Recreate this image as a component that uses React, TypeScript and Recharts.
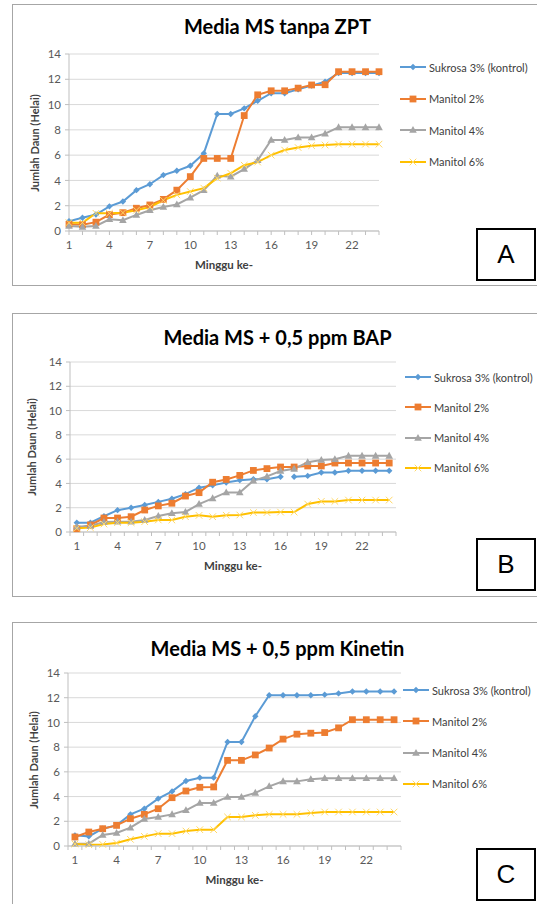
import React from 'react';
import { LineChart, Line, XAxis, YAxis, CartesianGrid } from 'recharts';

const weeks = [1, 2, 3, 4, 5, 6, 7, 8, 9, 10, 11, 12, 13, 14, 15, 16, 17, 18, 19, 20, 21, 22, 23, 24];
const xLabelWeeks = [1, 4, 7, 10, 13, 16, 19, 22];
const yTicks = [0, 2, 4, 6, 8, 10, 12, 14];
const seriesNames = ['Sukrosa 3% (kontrol)', 'Manitol 2%', 'Manitol 4%', 'Manitol 6%'];

// A: Media MS tanpa ZPT
const sukrosaA = [0.77, 1.05, 1.3, 1.95, 2.33, 3.23, 3.7, 4.42, 4.76, 5.16, 6.14, 9.26, 9.26, 9.7, 10.3, 10.9, 10.9, 11.2, 11.5, 11.8, 12.5, 12.5, 12.5, 12.5];
const manitol2A = [0.53, 0.5, 0.7, 1.3, 1.45, 1.8, 2.06, 2.5, 3.23, 4.3, 5.74, 5.74, 5.74, 9.13, 10.77, 11.09, 11.09, 11.3, 11.55, 11.57, 12.6, 12.6, 12.6, 12.6];
const manitol4A = [0.4, 0.33, 0.4, 0.93, 0.85, 1.27, 1.64, 1.9, 2.1, 2.64, 3.23, 4.37, 4.3, 4.9, 5.6, 7.2, 7.2, 7.4, 7.4, 7.7, 8.2, 8.2, 8.2, 8.2];
const manitol6A = [0.66, 0.66, 1.4, 1.4, 1.45, 1.64, 1.9, 2.43, 2.86, 3.12, 3.39, 4.18, 4.57, 5.2, 5.45, 6.0, 6.4, 6.6, 6.75, 6.8, 6.87, 6.87, 6.87, 6.87];

// B: Media MS + 0,5 ppm BAP
const sukrosaB = [0.77, 0.77, 1.3, 1.8, 2.0, 2.22, 2.48, 2.74, 3.12, 3.65, 3.84, 4.07, 4.27, 4.35, 4.34, 4.55, 4.55, 4.62, 4.9, 4.9, 5.05, 5.05, 5.05, 5.05];
const manitol2B = [0.27, 0.58, 1.15, 1.15, 1.26, 1.81, 2.15, 2.37, 2.96, 3.24, 4.1, 4.33, 4.66, 5.07, 5.22, 5.35, 5.35, 5.44, 5.44, 5.68, 5.68, 5.68, 5.68, 5.68];
const manitol4B = [0.44, 0.5, 0.82, 0.85, 0.85, 0.99, 1.32, 1.54, 1.65, 2.3, 2.77, 3.26, 3.25, 4.22, 4.58, 5.02, 5.2, 5.75, 5.93, 6.0, 6.27, 6.27, 6.27, 6.27];
const manitol6B = [0.3, 0.36, 0.66, 0.77, 0.77, 0.85, 0.99, 0.99, 1.26, 1.37, 1.26, 1.38, 1.4, 1.6, 1.6, 1.64, 1.64, 2.3, 2.52, 2.52, 2.63, 2.63, 2.63, 2.63];

// C: Media MS + 0,5 ppm Kinetin
const sukrosaC = [0.86, 0.78, 1.4, 1.67, 2.56, 3.02, 3.83, 4.42, 5.26, 5.53, 5.53, 8.42, 8.42, 10.5, 12.2, 12.2, 12.2, 12.2, 12.25, 12.35, 12.5, 12.5, 12.5, 12.5];
const manitol2C = [0.73, 1.13, 1.4, 1.67, 2.21, 2.56, 3.02, 3.91, 4.45, 4.75, 4.78, 6.93, 6.93, 7.37, 7.93, 8.65, 9.05, 9.13, 9.18, 9.56, 10.22, 10.22, 10.22, 10.22];
const manitol4C = [0.19, 0.19, 0.89, 1.05, 1.48, 2.18, 2.35, 2.56, 2.89, 3.48, 3.48, 3.97, 3.97, 4.3, 4.83, 5.23, 5.23, 5.4, 5.48, 5.48, 5.48, 5.48, 5.48, 5.48];
const manitol6C = [0.16, 0.1, 0.13, 0.24, 0.54, 0.78, 1.0, 1.0, 1.21, 1.32, 1.32, 2.35, 2.35, 2.48, 2.56, 2.56, 2.56, 2.67, 2.75, 2.75, 2.75, 2.75, 2.75, 2.75];

const FONT = 'Lato, "Open Sans", sans-serif';
const keys = ['s', 'm2', 'm4', 'm6'];
const colors: Record<string, string> = { s: '#5B9BD5', m2: '#ED7D31', m4: '#A5A5A5', m6: '#FFC000' };
const kinds: Record<string, string> = { s: 'diamond', m2: 'square', m4: 'triangle', m6: 'x' };

const Marker = (props: any) => {
  const { cx, cy, kind, color } = props;
  if (cx == null || cy == null || isNaN(cx) || isNaN(cy)) return <g />;
  if (kind === 'diamond') {
    return <path d={`M${cx},${cy - 3.2}L${cx + 3.2},${cy}L${cx},${cy + 3.2}L${cx - 3.2},${cy}Z`} fill={color} />;
  }
  if (kind === 'square') {
    return <rect x={cx - 3.4} y={cy - 3.4} width={6.8} height={6.8} fill={color} />;
  }
  if (kind === 'triangle') {
    return <path d={`M${cx},${cy - 4}L${cx + 3.8},${cy + 2.8}L${cx - 3.8},${cy + 2.8}Z`} fill={color} />;
  }
  return (
    <path
      d={`M${cx - 3.3},${cy - 3.3}L${cx + 3.3},${cy + 3.3}M${cx + 3.3},${cy - 3.3}L${cx - 3.3},${cy + 3.3}`}
      stroke="#FFD966"
      strokeWidth={1}
      fill="none"
    />
  );
};

interface PanelProps {
  top: number;
  height: number;
  title: string;
  titleY: number;
  series: number[][];
  plotLeft: number;
  plotRight: number;
  plotTop: number;
  plotBottom: number;
  between: boolean;
  legendTop: number;
  legendSpacing: number;
  legendLeft: number;
  letter: string;
  boxTop: number;
  yLabelX: number;
  gapAfter?: number;
}

const Panel = (p: PanelProps) => {
  const rows = weeks.map((w, i) => {
    const r: any = { week: w };
    keys.forEach((k, j) => {
      r[k] = p.series[j][i];
    });
    if (p.gapAfter) {
      r.s = w <= p.gapAfter ? p.series[0][i] : null;
      r.s2 = w > p.gapAfter ? p.series[0][i] : null;
    }
    return r;
  });

  const step = (p.plotRight - p.plotLeft) / (p.between ? 24 : 23);
  const half = p.between ? step / 2 : 0;
  const yAxisW = 40;
  const chartTop = p.plotTop - 10;
  const chartH = p.plotBottom - p.plotTop + 50;

  const XTick = (t: any) => {
    const { x, y, payload } = t;
    const v = payload.value;
    const showLabel = xLabelWeeks.includes(v);
    return (
      <g>
        <line x1={x - half} x2={x - half} y1={y} y2={y + 4} stroke="#BFBFBF" />
        {p.between && v === 24 && <line x1={x + half} x2={x + half} y1={y} y2={y + 4} stroke="#BFBFBF" />}
        {showLabel && (
          <text x={x} y={y + 18} textAnchor="middle" fontSize={11.5} fill="#595959" fontFamily={FONT}>
            {v}
          </text>
        )}
      </g>
    );
  };

  return (
    <>
      <div
        style={{
          position: 'absolute',
          left: 12,
          top: p.top,
          width: 540,
          height: p.height,
          border: '1.5px solid #A6A6A6',
          boxSizing: 'border-box',
        }}
      />
      <div
        style={{
          position: 'absolute',
          left: 0,
          width: 555,
          top: p.titleY - 13,
          height: 26,
          lineHeight: '26px',
          textAlign: 'center',
          fontFamily: FONT,
          fontWeight: 700,
          fontSize: 20,
          color: '#000',
        }}
      >
        {p.title}
      </div>
      <div style={{ position: 'absolute', left: 0, top: chartTop }}>
        <LineChart
          width={537}
          height={chartH}
          data={rows}
          margin={{ top: 10, left: p.plotLeft - yAxisW, right: 537 - p.plotRight, bottom: 10 }}
        >
          <CartesianGrid horizontal vertical={false} stroke="#D9D9D9" />
          <XAxis
            dataKey="week"
            height={30}
            interval={0}
            padding={{ left: half, right: half }}
            tickSize={0}
            tickMargin={0}
            tickLine={false}
            axisLine={{ stroke: '#BFBFBF' }}
            tick={<XTick />}
          />
          <YAxis
            width={yAxisW}
            domain={[0, 14]}
            ticks={yTicks}
            interval={0}
            tickSize={4}
            tickMargin={4}
            tickLine={{ stroke: '#BFBFBF' }}
            axisLine={{ stroke: '#BFBFBF' }}
            tick={{ fontSize: 11.5, fill: '#595959', fontFamily: FONT }}
          />
          {keys.map((k) => (
            <Line
              key={k}
              dataKey={k}
              name={seriesNames[keys.indexOf(k)]}
              type="linear"
              stroke={colors[k]}
              strokeWidth={2}
              dot={<Marker kind={kinds[k]} color={colors[k]} />}
              activeDot={false}
              isAnimationActive={false}
            />
          ))}
          {p.gapAfter && (
            <Line
              dataKey="s2"
              type="linear"
              stroke={colors.s}
              strokeWidth={2}
              dot={<Marker kind="diamond" color={colors.s} />}
              activeDot={false}
              legendType="none"
              isAnimationActive={false}
            />
          )}
        </LineChart>
      </div>
      <div
        style={{
          position: 'absolute',
          left: p.yLabelX - 70,
          top: (p.plotTop + p.plotBottom) / 2 - 8,
          width: 140,
          height: 16,
          lineHeight: '16px',
          textAlign: 'center',
          transform: 'rotate(-90deg)',
          fontFamily: FONT,
          fontWeight: 700,
          fontSize: 11,
          color: '#404040',
        }}
      >
        Jumlah Daun (Helai)
      </div>
      <div
        style={{
          position: 'absolute',
          left: (p.plotLeft + p.plotRight) / 2 - 60,
          top: p.plotBottom + 26,
          width: 120,
          height: 16,
          lineHeight: '16px',
          textAlign: 'center',
          fontFamily: FONT,
          fontWeight: 700,
          fontSize: 11.5,
          color: '#404040',
        }}
      >
        Minggu ke-
      </div>
      {seriesNames.map((n, i) => (
        <div
          key={n}
          style={{
            position: 'absolute',
            left: p.legendLeft,
            top: p.legendTop + i * p.legendSpacing - 8,
            height: 16,
            display: 'flex',
            alignItems: 'center',
            fontFamily: FONT,
            fontSize: 11,
            color: '#404040',
            whiteSpace: 'nowrap',
          }}
        >
          <svg width={26} height={12} style={{ marginRight: 3 }}>
            <line x1={0} x2={26} y1={6} y2={6} stroke={colors[keys[i]]} strokeWidth={2} />
            <Marker cx={13} cy={6} kind={kinds[keys[i]]} color={colors[keys[i]]} />
          </svg>
          {n}
        </div>
      ))}
      <div
        style={{
          position: 'absolute',
          left: 476,
          top: p.boxTop,
          width: 60,
          height: 53,
          border: '2px solid #000',
          boxSizing: 'border-box',
          display: 'flex',
          alignItems: 'center',
          justifyContent: 'center',
          fontFamily: '"Liberation Sans", Arial, sans-serif',
          fontSize: 26,
          color: '#000',
          background: '#fff',
        }}
      >
        {p.letter}
      </div>
    </>
  );
};

export default function App() {
  return (
    <div style={{ position: 'absolute', left: 0, top: 0, width: 537, height: 904, overflow: 'hidden', background: '#fff' }}>
      <Panel
        top={4}
        height={282}
        title="Media MS tanpa ZPT"
        titleY={26}
        series={[sukrosaA, manitol2A, manitol4A, manitol6A]}
        plotLeft={69}
        plotRight={379}
        plotTop={54}
        plotBottom={231}
        between={false}
        legendTop={67}
        legendSpacing={31.5}
        legendLeft={400}
        letter="A"
        boxTop={228}
        yLabelX={35}
      />
      <Panel
        top={313}
        height={284}
        title="Media MS + 0,5 ppm BAP"
        titleY={337}
        series={[sukrosaB, manitol2B, manitol4B, manitol6B]}
        plotLeft={70}
        plotRight={396}
        plotTop={362}
        plotBottom={532}
        between
        legendTop={377}
        legendSpacing={30.3}
        legendLeft={405}
        letter="B"
        boxTop={538}
        yLabelX={32}
        gapAfter={16}
      />
      <Panel
        top={622}
        height={300}
        title="Media MS + 0,5 ppm Kinetin"
        titleY={648}
        series={[sukrosaC, manitol2C, manitol4C, manitol6C]}
        plotLeft={68}
        plotRight={401}
        plotTop={673}
        plotBottom={846}
        between
        legendTop={690}
        legendSpacing={31.3}
        legendLeft={403}
        letter="C"
        boxTop={848}
        yLabelX={34}
      />
    </div>
  );
}
